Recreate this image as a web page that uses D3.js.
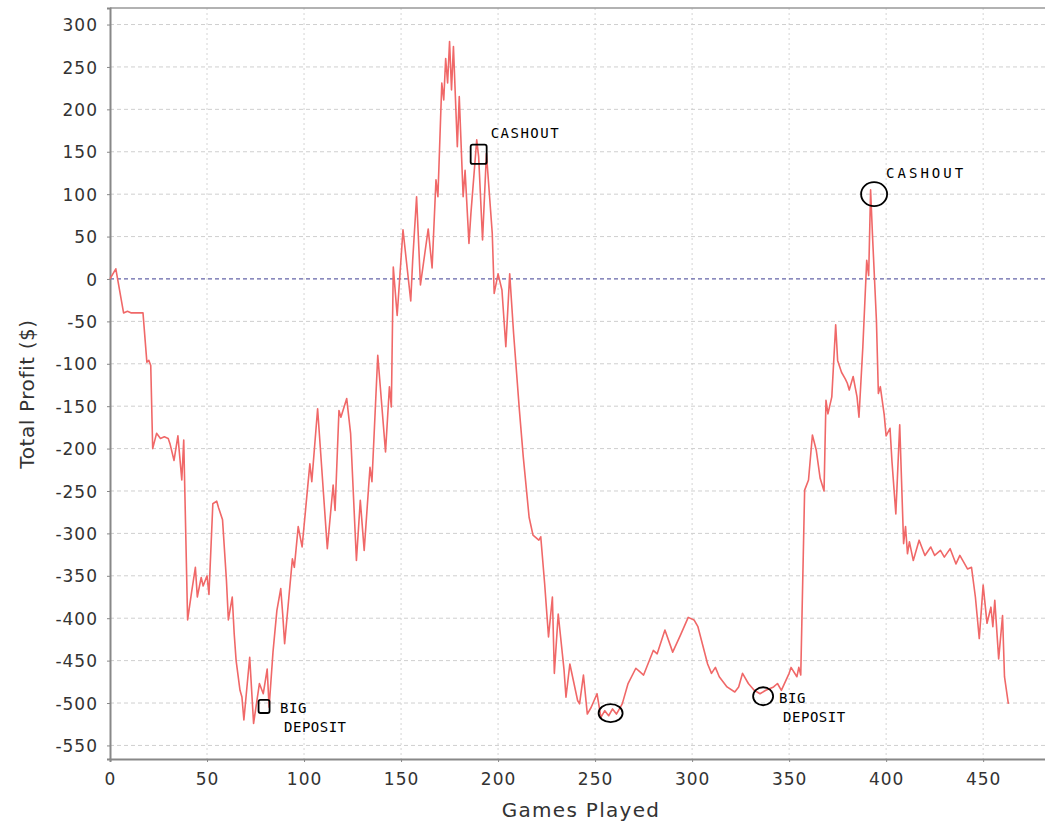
<!DOCTYPE html>
<html>
<head>
<meta charset="utf-8">
<script src="https://cdn.jsdelivr.net/npm/d3@7/dist/d3.min.js"></script>
<style>
  body { margin: 0; background: #fff; }
  svg { display: block; }
  .tick text { font-family: "DejaVu Sans", sans-serif; font-size: 17px; fill: #333; letter-spacing: 1px; }
</style>
</head>
<body>
<svg id="chart" width="1045" height="828"></svg>
<script>
// games played (x) and running total profit in $ (y)
const games = [0, 3, 7, 9, 11, 13, 17, 19, 20, 21, 22, 24, 26, 28, 30, 31, 33, 35, 37, 38,
  40, 42, 44, 45, 47, 48, 50, 51, 53, 55, 56, 58, 60, 61, 63, 64, 65, 67, 68, 69,
  72, 74, 77, 79, 81, 82, 84, 86, 88, 89, 90, 92, 94, 95, 97, 99, 103, 104, 107, 112,
  115, 116, 118, 119, 122, 124, 127, 129, 131, 134, 135, 138, 142, 144, 145, 146, 148, 151, 155, 156,
  158, 160, 164, 166, 168, 169, 171, 172, 173, 174, 175, 176, 177, 179, 180, 182, 183, 185, 186, 189,
  190, 192, 194, 197, 198, 200, 202, 204, 206, 208, 211, 213, 216, 218, 221, 222, 224, 226, 228, 229,
  231, 234, 235, 237, 241, 242, 244, 246, 248, 251, 253, 255, 257, 259, 261, 264, 267, 271, 273, 275,
  280, 282, 286, 290, 294, 298, 301, 303, 308, 310, 312, 314, 318, 322, 324, 326, 329, 332, 335, 338,
  342, 344, 346, 350, 351, 354, 355, 356, 358, 360, 362, 364, 366, 368, 369, 370, 372, 374, 375, 377,
  379, 380, 381, 383, 385, 386, 388, 390, 391, 392, 393, 395, 396, 397, 399, 400, 402, 403, 405, 407,
  409, 410, 411, 412, 414, 417, 420, 423, 425, 428, 430, 433, 436, 438, 442, 444, 446, 448, 450, 452,
  454, 455, 456, 458, 460, 461, 463];
const profit = [0, 12, -40, -38, -40, -40, -40, -98, -96, -102, -200, -182, -188, -186, -188, -195, -214, -185, -237, -190,
  -402, -370, -340, -375, -352, -362, -350, -372, -265, -262, -270, -284, -355, -402, -375, -418, -450, -485, -493, -520,
  -446, -524, -477, -489, -460, -505, -440, -391, -365, -395, -430, -380, -330, -340, -292, -316, -218, -239, -153, -318,
  -243, -273, -155, -163, -141, -182, -332, -261, -320, -222, -239, -90, -204, -127, -151, 14, -43, 58, -26, 22,
  97, -7, 59, 13, 117, 97, 231, 211, 260, 231, 280, 223, 274, 156, 215, 97, 128, 42, 77, 164,
  144, 46, 148, 54, -17, 6, -13, -80, 6, -64, -155, -210, -281, -302, -308, -304, -359, -422, -375, -465,
  -395, -461, -493, -454, -497, -501, -467, -513, -505, -489, -517, -509, -515, -507, -513, -501, -477, -459, -463, -467,
  -438, -442, -414, -440, -420, -399, -402, -410, -454, -465, -458, -469, -481, -487, -481, -465, -477, -485, -489, -485,
  -481, -477, -485, -465, -458, -469, -458, -467, -249, -237, -184, -202, -235, -250, -143, -159, -139, -54, -96, -110,
  -118, -123, -131, -115, -139, -163, -80, 22, 4, 105, 50, -49, -135, -127, -160, -185, -176, -215, -277, -172,
  -312, -292, -324, -310, -332, -308, -326, -316, -326, -320, -328, -318, -336, -326, -342, -340, -375, -424, -361, -406,
  -387, -410, -379, -448, -397, -469, -501];

const xTicks = [0, 50, 100, 150, 200, 250, 300, 350, 400, 450];
const yTicks = [300, 250, 200, 150, 100, 50, 0, -50, -100, -150, -200, -250, -300, -350, -400, -450, -500, -550];

// hand-drawn notes: where they sit (game, profit), their shape and their words
const noteGames   = [79.4, 190, 258, 336.6, 393.8];
const noteProfits = [-504, 147, -512, -492, 100];
const noteShapes  = ['box', 'box', 'blob', 'blob', 'ring'];
const noteLines   = [['BIG', 'DEPOSIT'], ['CASHOUT'], [], ['BIG', 'DEPOSIT'], ['CASHOUT']];

const svg = d3.select('#chart');
const margin = {left: 110, top: 8, bottom: 69};
const H = 828;

const x = d3.scaleLinear().domain([0, 486]).range([margin.left, 1053]);
const y = d3.scaleLinear().domain([-566, 319.5]).range([H - margin.bottom, margin.top]);

// grid
svg.append('g').selectAll('line').data(xTicks.slice(1)).join('line')
  .attr('x1', d => x(d)).attr('x2', d => x(d))
  .attr('y1', y.range()[1]).attr('y2', y.range()[0])
  .attr('stroke', '#d4d4d4').attr('stroke-width', 1).attr('stroke-dasharray', '2,3');
svg.append('g').selectAll('line').data(yTicks.filter(d => d !== 0)).join('line')
  .attr('x1', x.range()[0]).attr('x2', 1045)
  .attr('y1', d => y(d)).attr('y2', d => y(d))
  .attr('stroke', '#cfcfcf').attr('stroke-width', 1).attr('stroke-dasharray', '4,3');

// top outline of the plot
svg.append('line')
  .attr('x1', x.range()[0]).attr('x2', 1045)
  .attr('y1', y.range()[1]).attr('y2', y.range()[1])
  .attr('stroke', '#999').attr('stroke-width', 1.5);

// zero marker
svg.append('line')
  .attr('x1', x.range()[0]).attr('x2', 1045)
  .attr('y1', y(0)).attr('y2', y(0))
  .attr('stroke', '#6464a8').attr('stroke-width', 1.2).attr('stroke-dasharray', '4,3');

// axes
const xAxis = svg.append('g')
  .attr('transform', `translate(0,${y.range()[0]})`)
  .call(d3.axisBottom(x).tickValues(xTicks).tickSize(3).tickPadding(10).tickFormat(d3.format('d')));
const yAxis = svg.append('g')
  .attr('transform', `translate(${x.range()[0]},0)`)
  .call(d3.axisLeft(y).tickValues(yTicks).tickSize(3).tickPadding(9).tickFormat(d3.format('d')));
[xAxis, yAxis].forEach(g => {
  g.select('.domain').attr('stroke', '#888').attr('stroke-width', 2);
  g.selectAll('.tick line').attr('stroke', '#888');
});
yAxis.selectAll('.tick text').attr('dy', '0.36em');
xAxis.selectAll('.tick text').attr('dy', '0.75em');
yAxis.selectAll('.tick text').text(d => d < 0 ? '-' + Math.abs(d) : d);

// axis titles
svg.append('text')
  .attr('x', 581).attr('y', 817)
  .attr('text-anchor', 'middle')
  .style('font-family', '"DejaVu Sans", sans-serif').style('font-size', '20px')
  .style('letter-spacing', '1.3px').attr('fill', '#333')
  .text('Games Played');
svg.append('text')
  .attr('transform', 'translate(34,394) rotate(-90)')
  .attr('text-anchor', 'middle')
  .style('font-family', '"DejaVu Sans", sans-serif').style('font-size', '20px')
  .style('letter-spacing', '0.6px').attr('fill', '#333')
  .text('Total Profit ($)');

// profit line
const pts = games.map((g, i) => [g, profit[i]]);
svg.append('path')
  .datum(pts)
  .attr('fill', 'none')
  .attr('stroke', '#f06868')
  .attr('stroke-width', 1.6)
  .attr('stroke-linejoin', 'round')
  .attr('d', d3.line().x(d => x(d[0])).y(d => y(d[1])));

// hand-drawn notes
const notes = svg.append('g');
noteGames.forEach((g, i) => {
  const cx = x(g), cy = y(noteProfits[i]);
  const shape = noteShapes[i];
  if (shape === 'box') {
    const s = i === 0 ? 11 : 16;
    notes.append('rect')
      .attr('x', cx - s / 2).attr('y', cy - s * 0.6)
      .attr('width', s).attr('height', s * 1.2)
      .attr('rx', 2)
      .attr('fill', 'none').attr('stroke', '#000').attr('stroke-width', 1.8);
  } else if (shape === 'blob') {
    notes.append('ellipse')
      .attr('cx', cx).attr('cy', cy)
      .attr('rx', i === 2 ? 12 : 10).attr('ry', 9)
      .attr('fill', 'none').attr('stroke', '#000').attr('stroke-width', 1.8);
  } else {
    notes.append('ellipse')
      .attr('cx', cx).attr('cy', cy)
      .attr('rx', 13).attr('ry', 12)
      .attr('fill', 'none').attr('stroke', '#000').attr('stroke-width', 1.8);
  }
  const lines = noteLines[i];
  if (!lines.length) return;
  const t = notes.append('text')
    .style('font-family', '"DejaVu Sans Mono", monospace')
    .style('font-size', '14px')
    .style('letter-spacing', lines.length > 1 ? '0.5px' : (i === 1 ? '1.5px' : '3px'))
    .attr('fill', '#000');
  if (lines.length > 1) {
    t.append('tspan').attr('x', cx + 16).attr('y', cy + 7).text(lines[0]);
    t.append('tspan').attr('x', cx + 20).attr('y', cy + 26).text(lines[1]);
  } else {
    t.append('tspan').attr('x', cx + 12).attr('y', cy - 16).text(lines[0]);
  }
});
</script>
</body>
</html>
